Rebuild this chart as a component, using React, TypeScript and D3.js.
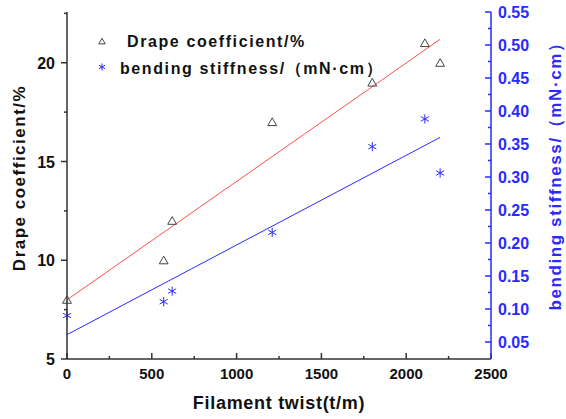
import React from 'react'
import * as d3 from 'd3'

// values
const twist = [0, 570, 620, 1210, 1800, 2110, 2200]
const drape = [8, 10, 12, 17, 19, 21, 20]
const stiffness = [0.09, 0.111, 0.127, 0.216, 0.346, 0.388, 0.306]

const xTicks = [0, 500, 1000, 1500, 2000, 2500]
const xMinor = [250, 750, 1250, 1750, 2250]
const leftTicks = [5, 10, 15, 20]
const leftMinor = [7.5, 12.5, 17.5, 22.5]
const rightTicks = [0.05, 0.1, 0.15, 0.2, 0.25, 0.3, 0.35, 0.4, 0.45, 0.5, 0.55]
const rightMinor = [0.075, 0.125, 0.175, 0.225, 0.275, 0.325, 0.375, 0.425, 0.475, 0.525]

const W = 566
const H = 419
const left = 67
const right = 491
const top = 12
const bottom = 359

const BLUE = '#2a2aff'
const FONT = '"Liberation Sans", Arial, sans-serif'

const fit = (xs: number[], ys: number[]) => {
  const mx = d3.mean(xs) as number
  const my = d3.mean(ys) as number
  let sxy = 0
  let sxx = 0
  xs.forEach((x, i) => {
    sxy += (x - mx) * (ys[i] - my)
    sxx += (x - mx) * (x - mx)
  })
  const b = sxy / sxx
  const a = my - b * mx
  return (x: number) => a + b * x
}

const App = () => {
  const x = d3.scaleLinear().domain([0, 2500]).range([left, right])
  const yL = d3.scaleLinear().domain([5, 22.57]).range([bottom, top])
  const yR = d3.scaleLinear().domain([0.0242, 0.55]).range([bottom, top])

  const drapeFit = fit(twist, drape)
  const stiffFit = fit(twist, stiffness)
  const xExt = d3.extent(twist) as [number, number]

  const redLine = d3.line<number>().x((d) => x(d)).y((d) => yL(drapeFit(d)))(xExt) || ''
  const blueLine = d3.line<number>().x((d) => x(d)).y((d) => yR(stiffFit(d)))(xExt) || ''

  const tri = d3.symbol(d3.symbolTriangle, 34)() || ''
  const triSmall = d3.symbol(d3.symbolTriangle, 18)() || ''
  const star = d3.symbol(d3.symbolAsterisk, 60)() || ''
  const starSmall = d3.symbol(d3.symbolAsterisk, 34)() || ''

  return (
    <svg width={W} height={H} style={{ position: 'absolute', left: 0, top: 0, background: '#fff' }}
      fontFamily={FONT} fontWeight="bold">
      {/* fit lines */}
      <path d={redLine} stroke="#ff5050" strokeWidth={1} fill="none" />
      <path d={blueLine} stroke={BLUE} strokeWidth={1} fill="none" />

      {/* points */}
      {twist.map((t, i) => (
        <path key={'d' + i} d={tri} transform={`translate(${x(t)},${yL(drape[i]) + 1})`}
          fill="none" stroke="#444" strokeWidth={1} />
      ))}
      {twist.map((t, i) => (
        <path key={'s' + i} d={star} transform={`translate(${x(t)},${yR(stiffness[i])})`}
          fill="none" stroke={BLUE} strokeWidth={1} />
      ))}

      {/* left axis */}
      <line x1={left} x2={left} y1={top} y2={bottom} stroke="#333" strokeWidth={1.5} />
      {leftTicks.map((v) => (
        <g key={v}>
          <line x1={left - 6} x2={left} y1={yL(v)} y2={yL(v)} stroke="#333" strokeWidth={1.5} />
          <text x={left - 12} y={yL(v) + 6} textAnchor="end" fontSize={16} fill="#111">{v}</text>
        </g>
      ))}
      {leftMinor.map((v) => (
        <line key={v} x1={left - 3} x2={left} y1={yL(v)} y2={yL(v)} stroke="#333" strokeWidth={1.5} />
      ))}

      {/* bottom axis */}
      <line x1={left} x2={right} y1={bottom} y2={bottom} stroke="#333" strokeWidth={1.5} />
      {xTicks.map((v) => (
        <g key={v}>
          <line x1={x(v)} x2={x(v)} y1={bottom - 6} y2={bottom} stroke="#333" strokeWidth={1.5} />
          <text x={x(v)} y={bottom + 20} textAnchor="middle" fontSize={15} fill="#111">{v}</text>
        </g>
      ))}
      {xMinor.map((v) => (
        <line key={v} x1={x(v)} x2={x(v)} y1={bottom - 3} y2={bottom} stroke="#333" strokeWidth={1.5} />
      ))}

      {/* right axis */}
      <line x1={right} x2={right} y1={top} y2={bottom} stroke={BLUE} strokeWidth={1.5} />
      {rightTicks.map((v) => (
        <g key={v}>
          <line x1={right - 6} x2={right} y1={yR(v)} y2={yR(v)} stroke={BLUE} strokeWidth={1.5} />
          <text x={right + 7} y={yR(v) + 6} textAnchor="start" fontSize={16} fill={BLUE}>{v.toFixed(2)}</text>
        </g>
      ))}
      {rightMinor.map((v) => (
        <line key={v} x1={right - 3} x2={right} y1={yR(v)} y2={yR(v)} stroke={BLUE} strokeWidth={1.5} />
      ))}

      {/* axis titles */}
      <text transform={`translate(25,178) rotate(-90)`} textAnchor="middle" fontSize={17}
        letterSpacing={1.5} fill="#111">Drape coefficient/%</text>
      <text x={279} y={409} textAnchor="middle" fontSize={18} letterSpacing={0.7} fill="#111">
        Filament twist(t/m)
      </text>
      <text transform={`translate(561,172) rotate(-90)`} textAnchor="middle" fontSize={17}
        letterSpacing={1.6} fill={BLUE}>bending stiffness/（mN·cm）</text>

      {/* legend */}
      <path d={triSmall} transform="translate(102,42)" fill="none" stroke="#444" strokeWidth={1} />
      <text x={127} y={47} fontSize={16} letterSpacing={1.6} fill="#111">Drape coefficient/%</text>
      <path d={starSmall} transform="translate(102,67)" fill="none" stroke={BLUE} strokeWidth={1} />
      <text x={120} y={74} fontSize={16} letterSpacing={1.6} fill="#111">bending stiffness/（mN·cm）</text>
    </svg>
  )
}

export default App
